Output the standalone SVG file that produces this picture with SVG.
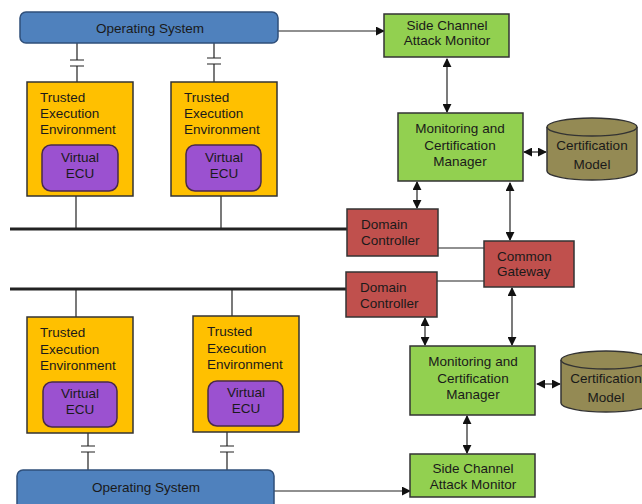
<svg xmlns="http://www.w3.org/2000/svg" width="642" height="504" viewBox="0 0 642 504">
<defs>
<marker id="ah" viewBox="0 0 10 10" refX="9" refY="5" markerWidth="9" markerHeight="9" markerUnits="userSpaceOnUse" orient="auto-start-reverse"><path d="M0,0 L10,5 L0,10 z" fill="#111"/></marker>
</defs>
<style>
text{font-family:"Liberation Sans",Arial,sans-serif;font-size:13.5px;fill:#1a1a1a}
.c{text-anchor:middle}
.os{fill:#4f81bd;stroke:#2f4f7a;stroke-width:1.5}
.tee{fill:#ffc000;stroke:#333;stroke-width:1.5}
.ecu{fill:#9b51d0;stroke:#4a2a4a;stroke-width:1.5}
.grn{fill:#92d050;stroke:#333;stroke-width:1.5}
.red{fill:#c0504d;stroke:#333;stroke-width:1.5}
.cyl{fill:#948a54;stroke:#333;stroke-width:1.5}
.ln{stroke:#222;stroke-width:1.2;fill:none}
.bus{stroke:#222;stroke-width:3;fill:none}
.ar{stroke:#222;stroke-width:1.2;fill:none;marker-end:url(#ah)}
.ar2{stroke:#222;stroke-width:1.2;fill:none;marker-end:url(#ah);marker-start:url(#ah)}
</style>
<g id="connectors">
<path class="bus" d="M10,229 H347"/>
<path class="bus" d="M10,289 H346"/>
<path class="ar" d="M278,31 H384"/>
<path class="ar" d="M274,491 H410"/>
<path class="ar2" d="M447,59 V112"/>
<path class="ar2" d="M524,152 H546"/>
<path class="ar2" d="M417,182 V208"/>
<path class="ar2" d="M510,183 V240"/>
<path class="ln" d="M438,248 H484"/>
<path class="ln" d="M437,281 H484"/>
<path class="ar2" d="M512,288 V345"/>
<path class="ar2" d="M425,318 V345"/>
<path class="ar2" d="M537,384 H560"/>
<path class="ar2" d="M467,416 V453"/>
<path class="ln" d="M77,43 V60 M70,60 H84 M70,66 H84 M77,66 V82"/>
<path class="ln" d="M214,43 V58 M207,58 H221 M207,64 H221 M214,64 V82"/>
<path class="ln" d="M76,196 V229 M221,196 V229"/>
<path class="ln" d="M76,289 V317 M232,289 V316"/>
<path class="ln" d="M88,433 V446 M81,446 H95 M81,452 H95 M88,452 V470"/>
<path class="ln" d="M227,432 V446 M220,446 H234 M220,452 H234 M227,452 V470"/>
</g>
<g id="os-top"><rect class="os" x="20" y="12" width="258" height="31" rx="6"/><text class="c" x="150" y="33">Operating System</text></g>
<g id="os-bottom"><rect class="os" x="17" y="470" width="257" height="40" rx="6"/><text class="c" x="146" y="492">Operating System</text></g>
<g id="tee1"><rect class="tee" x="27" y="82" width="106" height="114"/><text x="40" y="102">Trusted</text><text x="40" y="118">Execution</text><text x="40" y="134">Environment</text>
<rect class="ecu" x="42" y="145" width="76" height="46" rx="9"/><text class="c" x="80" y="162">Virtual</text><text class="c" x="80" y="178">ECU</text></g>
<g id="tee2"><rect class="tee" x="171" y="82" width="106" height="114"/><text x="184" y="102">Trusted</text><text x="184" y="118">Execution</text><text x="184" y="134">Environment</text>
<rect class="ecu" x="186" y="145" width="75" height="46" rx="9"/><text class="c" x="224" y="162">Virtual</text><text class="c" x="224" y="178">ECU</text></g>
<g id="tee3"><rect class="tee" x="27" y="317" width="106" height="116"/><text x="40" y="337">Trusted</text><text x="40" y="354">Execution</text><text x="40" y="370">Environment</text>
<rect class="ecu" x="43" y="382" width="74" height="45" rx="9"/><text class="c" x="80" y="398">Virtual</text><text class="c" x="80" y="414">ECU</text></g>
<g id="tee4"><rect class="tee" x="193" y="316" width="106" height="116"/><text x="207" y="336">Trusted</text><text x="207" y="353">Execution</text><text x="207" y="369">Environment</text>
<rect class="ecu" x="208" y="381" width="75" height="45" rx="9"/><text class="c" x="246" y="397">Virtual</text><text class="c" x="246" y="413">ECU</text></g>
<g id="scam-top"><rect class="grn" x="384" y="14" width="125" height="43"/><text class="c" x="447" y="30">Side Channel</text><text class="c" x="447" y="45">Attack Monitor</text></g>
<g id="mcm-top"><rect class="grn" x="398" y="113" width="125" height="68"/><text class="c" x="460" y="133">Monitoring and</text><text class="c" x="460" y="150">Certification</text><text class="c" x="460" y="166">Manager</text></g>
<g id="cm-top"><path class="cyl" d="M547,127 A45,9 0 0 1 637,127 V171 A45,9 0 0 1 547,171 Z"/><path class="cyl" d="M547,127 A45,9 0 0 0 637,127"/><text class="c" x="592" y="150">Certification</text><text class="c" x="592" y="169">Model</text></g>
<g id="dc-top"><rect class="red" x="347" y="209" width="91" height="47"/><text x="361" y="229">Domain</text><text x="361" y="245">Controller</text></g>
<g id="cg"><rect class="red" x="484" y="241" width="90" height="46"/><text x="497" y="261">Common</text><text x="497" y="276">Gateway</text></g>
<g id="dc-bottom"><rect class="red" x="346" y="272" width="91" height="45"/><text x="360" y="292">Domain</text><text x="360" y="308">Controller</text></g>
<g id="mcm-bottom"><rect class="grn" x="410" y="346" width="125" height="69"/><text class="c" x="473" y="366">Monitoring and</text><text class="c" x="473" y="383">Certification</text><text class="c" x="473" y="399">Manager</text></g>
<g id="cm-bottom"><path class="cyl" d="M561,360 A45,9 0 0 1 651,360 V403 A45,9 0 0 1 561,403 Z"/><path class="cyl" d="M561,360 A45,9 0 0 0 651,360"/><text class="c" x="606" y="383">Certification</text><text class="c" x="606" y="402">Model</text></g>
<g id="scam-bottom"><rect class="grn" x="410" y="454" width="125" height="43"/><text class="c" x="473" y="473">Side Channel</text><text class="c" x="473" y="489">Attack Monitor</text></g>
</svg>
